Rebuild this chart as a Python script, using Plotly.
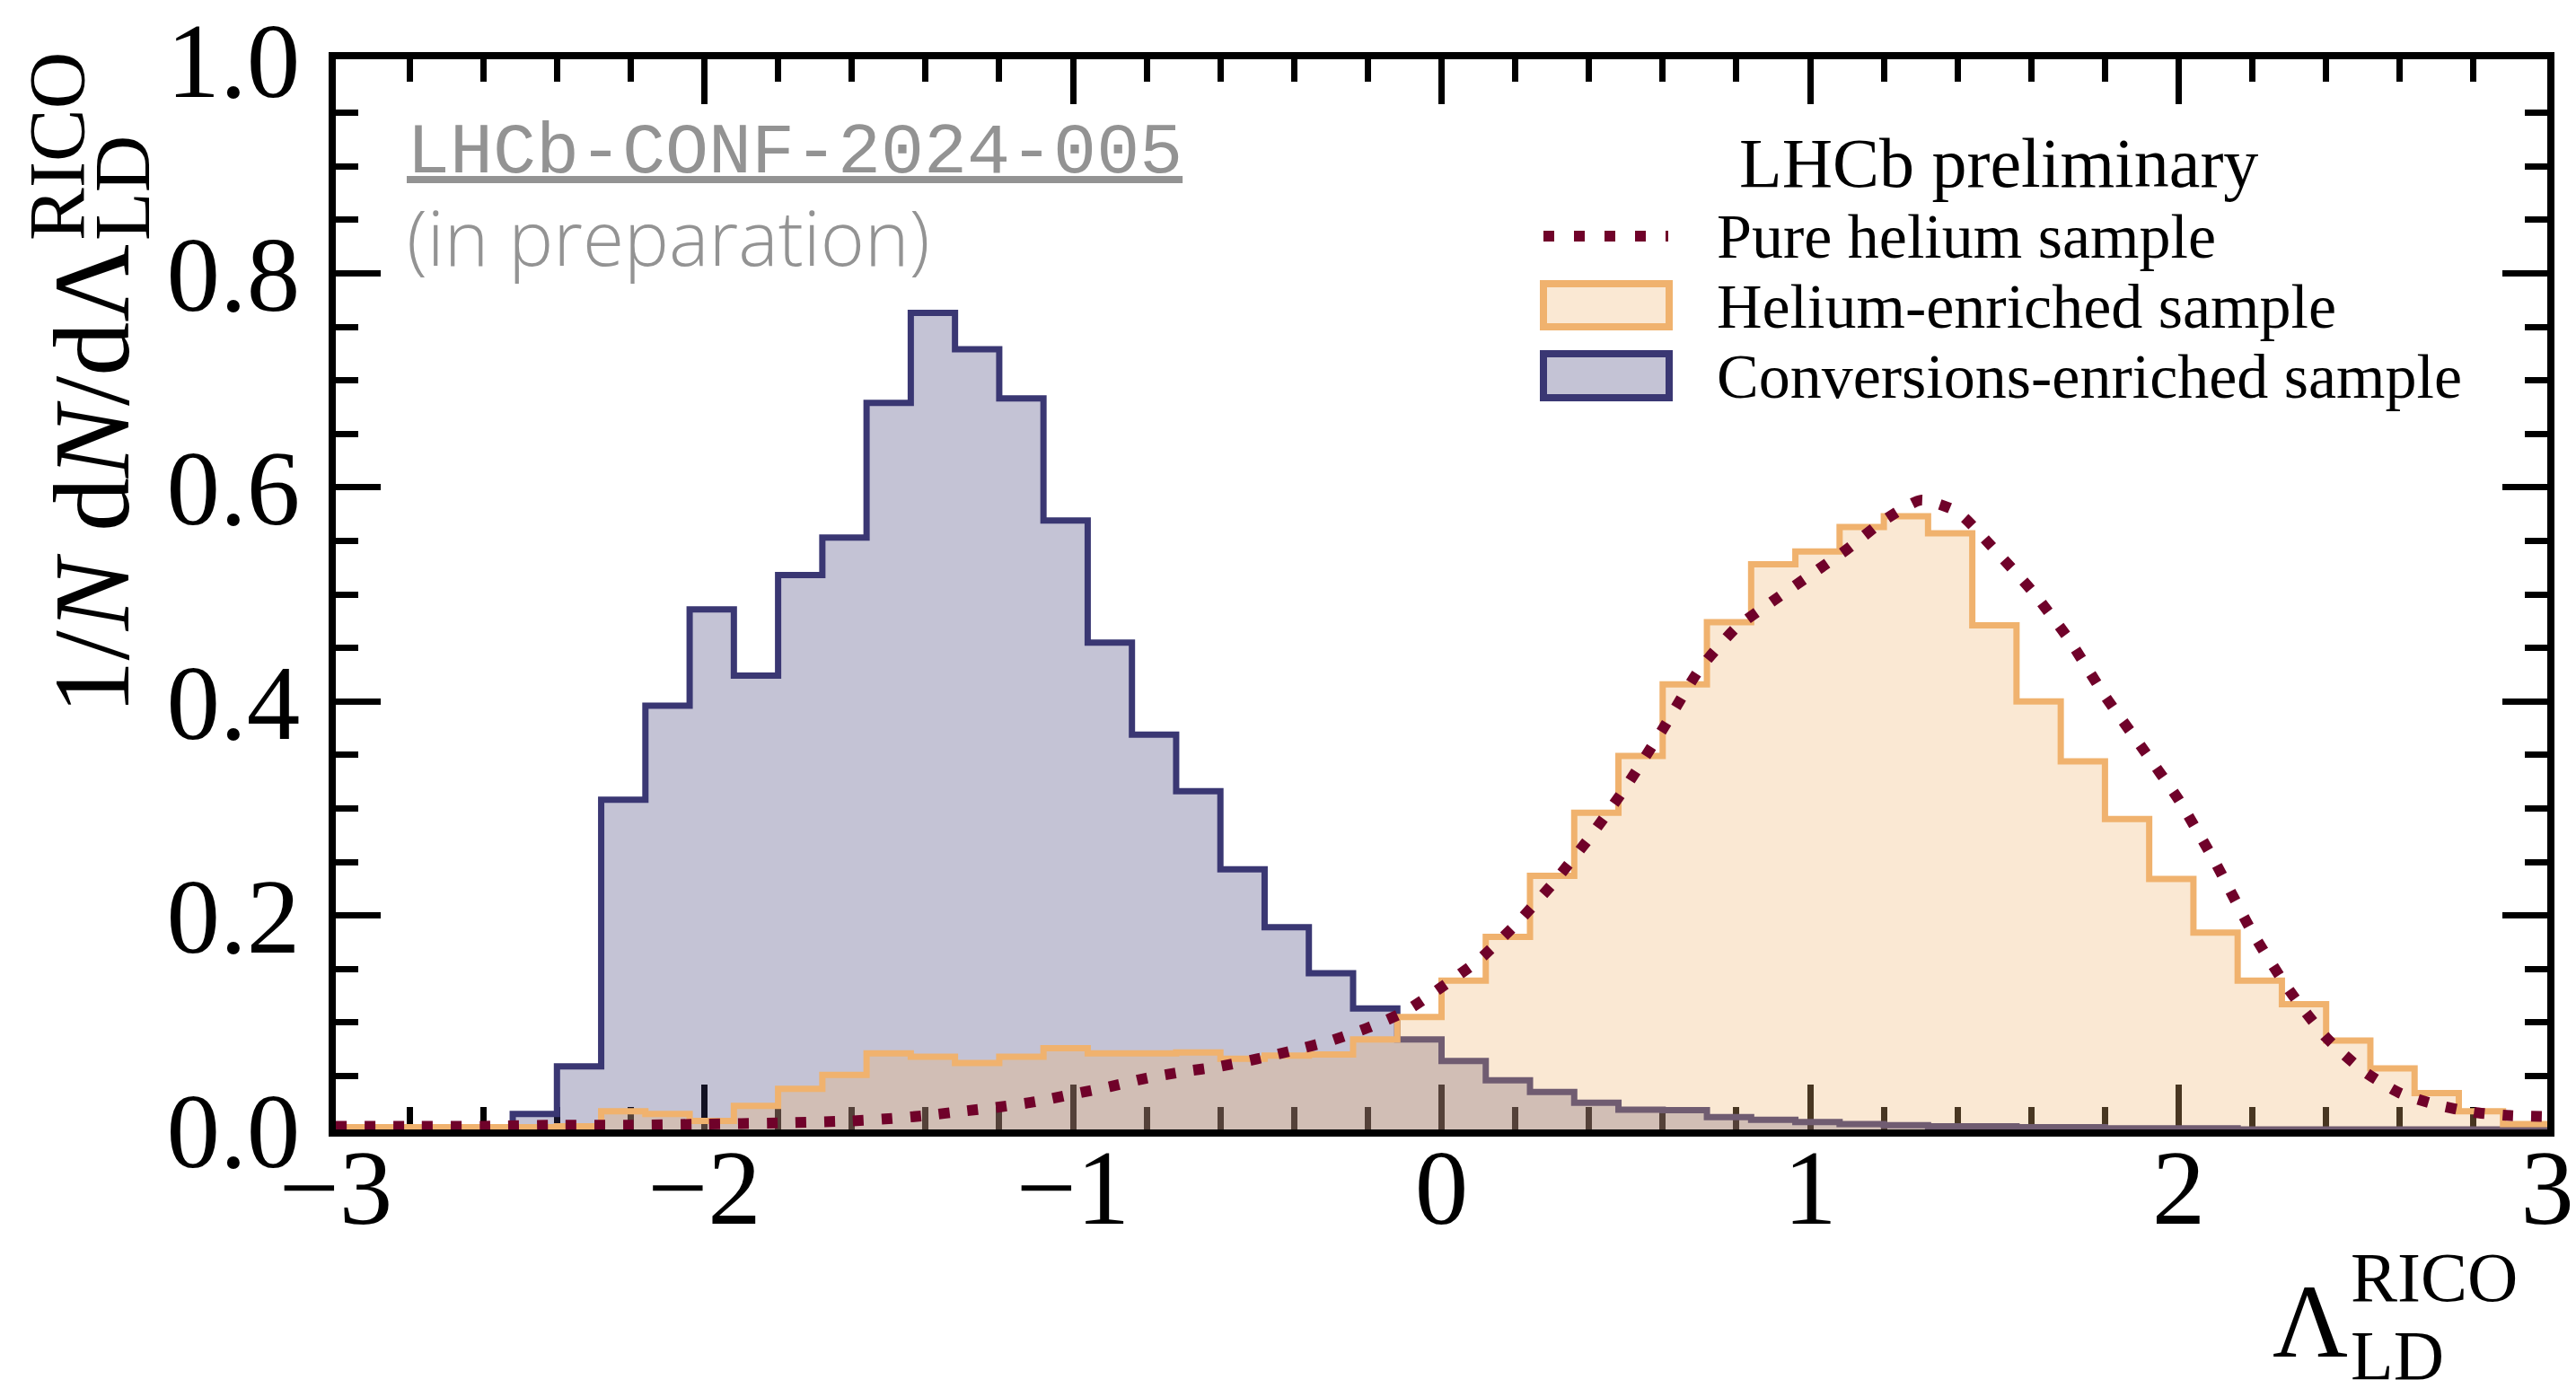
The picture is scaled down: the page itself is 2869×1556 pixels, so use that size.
import plotly.graph_objects as go

# Histogram binning of the likelihood-difference variable
bin_edges = [-3.0, -2.88, -2.76, -2.64, -2.52, -2.4, -2.28, -2.16, -2.04, -1.92,
             -1.8, -1.68, -1.56, -1.44, -1.32, -1.2, -1.08, -0.96, -0.84, -0.72,
             -0.6, -0.48, -0.36, -0.24, -0.12, 0.0, 0.12, 0.24, 0.36, 0.48,
             0.6, 0.72, 0.84, 0.96, 1.08, 1.2, 1.32, 1.44, 1.56, 1.68,
             1.8, 1.92, 2.04, 2.16, 2.28, 2.4, 2.52, 2.64, 2.76, 2.88, 3.0]

# Normalised bin contents, helium-enriched sample
helium_enriched = [0.002, 0.002, 0.002, 0.002, 0.002, 0.003, 0.017, 0.0145, 0.008, 0.022,
                   0.038, 0.051, 0.071, 0.068, 0.062, 0.068, 0.076, 0.071, 0.071, 0.072,
                   0.066, 0.069, 0.070, 0.084, 0.105, 0.139, 0.180, 0.237, 0.296, 0.349,
                   0.416, 0.474, 0.528, 0.540, 0.563, 0.573, 0.557, 0.471, 0.400, 0.344,
                   0.290, 0.234, 0.184, 0.139, 0.117, 0.083, 0.057, 0.034, 0.017, 0.005]

# Normalised bin contents, conversions-enriched sample
conversions_enriched = [0.0, 0.0, 0.0, 0.0, 0.0145, 0.059, 0.308, 0.396, 0.486, 0.424,
                        0.518, 0.553, 0.679, 0.763, 0.729, 0.683, 0.569, 0.455, 0.369, 0.316,
                        0.243, 0.189, 0.146, 0.113, 0.084, 0.064, 0.046, 0.035, 0.025, 0.0185,
                        0.018, 0.0115, 0.009, 0.007, 0.005, 0.004, 0.003, 0.003, 0.002, 0.002,
                        0.001, 0.001, 0.001, 0.0, 0.0, 0.0, 0.0, 0.0, 0.0, 0.0]

# Smooth template for the pure helium sample
pure_x = [-3.0, -2.8, -2.6, -2.4, -2.2, -2.0, -1.8, -1.6, -1.5, -1.4, -1.3, -1.2,
          -1.1, -1.0, -0.9, -0.8, -0.7, -0.6, -0.5, -0.4, -0.3, -0.2, -0.1,
          0.0, 0.1, 0.2, 0.3, 0.4, 0.5, 0.6, 0.7, 0.8, 0.9, 1.0, 1.1, 1.2, 1.3,
          1.4, 1.5, 1.6, 1.7, 1.8, 1.9, 2.0, 2.1, 2.2, 2.3, 2.4, 2.5, 2.6, 2.7,
          2.8, 2.9, 3.0]
pure_y = [0.003, 0.003, 0.003, 0.004, 0.004, 0.005, 0.006, 0.008, 0.010, 0.013, 0.017, 0.021,
          0.026, 0.033, 0.040, 0.048, 0.054, 0.059, 0.066, 0.074, 0.083, 0.095, 0.110,
          0.133, 0.158, 0.191, 0.229, 0.272, 0.320, 0.374, 0.430, 0.469, 0.494, 0.518, 0.542, 0.569, 0.588,
          0.577, 0.542, 0.504, 0.459, 0.405, 0.357, 0.308, 0.249, 0.184, 0.130, 0.086, 0.055, 0.034, 0.023,
          0.016, 0.013, 0.012]

x_ticks = [-3, -2, -1, 0, 1, 2, 3]
y_ticks = [0.0, 0.2, 0.4, 0.6, 0.8, 1.0]

legend_title = "LHCb preliminary"
legend_labels = ["Pure helium sample", "Helium-enriched sample", "Conversions-enriched sample"]

BLUE = "rgb(58,55,115)"
BLUE_FILL = "rgba(58,55,115,0.3)"
ORANGE = "rgb(240,178,110)"
ORANGE_FILL = "rgba(240,178,110,0.3)"
MAROON = "rgb(112,2,42)"
GREY = "rgb(147,147,147)"
SERIF = "Liberation Serif"

W, H = 2869, 1556
L, R, T, B = 374, 32, 66, 298
PW, PH = W - L - R, H - T - B


def fx(px):
    return (px - L) / PW


def fy(py):
    return (H - B - py) / PH


def supsub(size):
    # superscript stacked over subscript, as two lines of one text block
    return (f'<span style="font-size:{size}px">RICO</span><br>'
            f'<span style="font-size:{size}px">LD</span>')


fig = go.Figure()

fig.add_trace(go.Scatter(
    x=bin_edges, y=conversions_enriched + [conversions_enriched[-1]],
    mode="lines", line=dict(shape="hv", color=BLUE, width=7),
    fill="tozeroy", fillcolor=BLUE_FILL, name=legend_labels[2], hoverinfo="skip"))

fig.add_trace(go.Scatter(
    x=bin_edges, y=helium_enriched + [helium_enriched[-1]],
    mode="lines", line=dict(shape="hv", color=ORANGE, width=7),
    fill="tozeroy", fillcolor=ORANGE_FILL, name=legend_labels[1], hoverinfo="skip"))

fig.add_trace(go.Scatter(
    x=pure_x, y=pure_y, mode="lines",
    line=dict(shape="spline", smoothing=0.6, color=MAROON, width=12, dash="12px,20px"),
    name=legend_labels[0], hoverinfo="skip"))

axis_common = dict(
    ticks="inside", ticklen=50, tickwidth=7, tickcolor="black",
    showline=True, linewidth=8, linecolor="black", mirror="allticks",
    showgrid=False, zeroline=False, layer="below traces",
    ticklabeloverflow="allow", automargin=False,
    tickfont=dict(family=SERIF, size=119, color="black"),
)

fig.update_layout(
    width=W, height=H,
    margin=dict(l=L, r=R, t=T, b=B, autoexpand=False),
    plot_bgcolor="white", paper_bgcolor="white",
    showlegend=False,
    xaxis=dict(range=[-3, 3], tickvals=x_ticks, ticklabelstandoff=-46,
               minor=dict(dtick=0.2, tick0=0, ticks="inside", ticklen=25, tickwidth=7,
                          tickcolor="black", showgrid=False),
               **axis_common),
    yaxis=dict(range=[0, 1], tickvals=y_ticks, tickformat=".1f", ticklabelstandoff=8,
               minor=dict(dtick=0.05, tick0=0, ticks="inside", ticklen=25, tickwidth=7,
                          tickcolor="black", showgrid=False),
               **axis_common),
)

ann = []

# y-axis title, placed at the top end of the axis
ann.append(dict(text="1/<i>N</i> d<i>N</i>/dΛ", textangle=-90, x=fx(101.5), xanchor="center",
                y=fy(270), yanchor="top", font=dict(family=SERIF, size=120, color="black")))
ann.append(dict(text=supsub(88), textangle=-90, align="left", x=fx(100), xanchor="center",
                y=fy(270), yanchor="bottom", font=dict(family=SERIF, size=56, color="black")))

# x-axis title, placed at the right end of the axis
ann.append(dict(text="Λ", x=fx(2529), xanchor="left", y=fy(1511 - 0.3375 * 116), yanchor="middle",
                font=dict(family=SERIF, size=116, color="black")))
ann.append(dict(text=supsub(78), align="left", x=fx(2616), xanchor="left",
                y=fy(1446 - 0.891 * 78), yanchor="top",
                font=dict(family=SERIF, size=67, color="black")))

# document reference
ann.append(dict(
    text='<span style="text-decoration:underline">LHCb-CONF-2024-005</span><br>'
         '<span style="font-family:Open Sans;font-weight:300;font-size:84px">(in preparation)</span>',
    align="left", x=fx(451), xanchor="left", y=fy(190 - 0.833 * 80), yanchor="top",
    font=dict(family="Liberation Mono", size=80, color=GREY)))

# legend
ann.append(dict(text=legend_title, x=fx(2226), xanchor="center", y=fy(208 - 0.3375 * 78),
                yanchor="middle", font=dict(family=SERIF, size=78, color="black")))
for label, base in zip(legend_labels, [287, 365, 443]):
    ann.append(dict(text=label, x=fx(1910), xanchor="left", y=fy(base - 0.3375 * 70),
                    yanchor="middle", font=dict(family=SERIF, size=70, color="black")))

for a in ann:
    a.update(xref="paper", yref="paper", showarrow=False)
fig.update_layout(annotations=ann)

shapes = [
    dict(type="line", x0=fx(1719), x1=fx(1858), y0=fy(263), y1=fy(263),
         line=dict(color=MAROON, width=12, dash="12px,22px")),
    dict(type="rect", x0=fx(1719), x1=fx(1859), y0=fy(316), y1=fy(364),
         fillcolor=ORANGE_FILL, line=dict(color=ORANGE, width=8)),
    dict(type="rect", x0=fx(1719), x1=fx(1859), y0=fy(394), y1=fy(443),
         fillcolor=BLUE_FILL, line=dict(color=BLUE, width=8)),
]
for s in shapes:
    s.update(xref="paper", yref="paper")
fig.update_layout(shapes=shapes)

fig.write_html("out.html")
